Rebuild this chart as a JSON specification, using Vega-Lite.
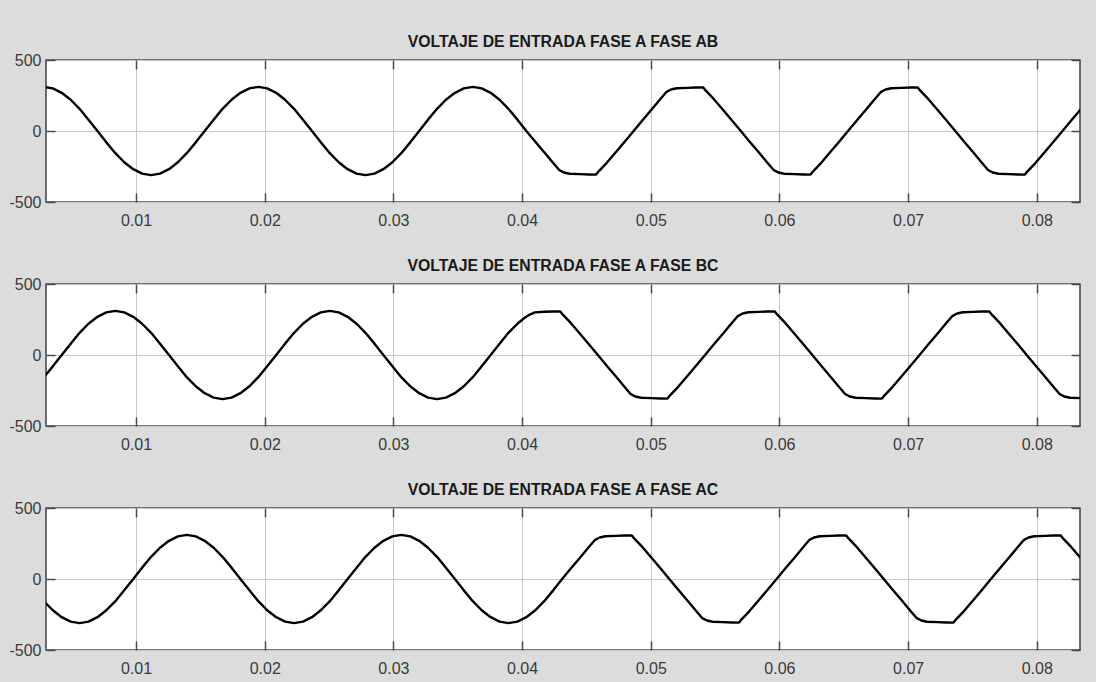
{
  "$schema": "https://vega.github.io/schema/vega-lite/v6.json",
  "background": "#dcdcdc",
  "padding": {"left": 8, "top": 33, "right": 10, "bottom": 5},
  "spacing": 28,
  "config": {
    "view": {"fill": "white", "stroke": "#4a4a4a", "strokeWidth": 1.6},
    "title": {"font": "Liberation Sans", "fontSize": 15.8, "fontWeight": "bold", "color": "#1a1a1a", "offset": 1, "anchor": "middle"},
    "axis": {"labelFont": "Liberation Sans", "labelFontSize": 16, "labelColor": "#3a3a3a", "domain": false, "tickColor": "#4a4a4a", "tickWidth": 1.5, "tickSize": -9, "gridColor": "#c8c8c8", "gridWidth": 1, "title": null, "labelFlush": false}
  },
  "datasets": {
    "ab": [
      {"t":0.00283,"v":311},{"t":0.00353,"v":300},{"t":0.00422,"v":269},{"t":0.00492,"v":220},{"t":0.00561,"v":156},{"t":0.0063,"v":80},{"t":0.007,"v":0},{"t":0.00769,"v":-80},{"t":0.00839,"v":-156},{"t":0.00908,"v":-220},{"t":0.00978,"v":-269},{"t":0.01047,"v":-300},{"t":0.01117,"v":-311},{"t":0.01186,"v":-300},{"t":0.01256,"v":-269},{"t":0.01325,"v":-220},{"t":0.01394,"v":-156},{"t":0.01464,"v":-80},{"t":0.01533,"v":0},{"t":0.01603,"v":80},{"t":0.01672,"v":156},{"t":0.01742,"v":220},{"t":0.01811,"v":269},{"t":0.01881,"v":300},{"t":0.0195,"v":311},{"t":0.02019,"v":300},{"t":0.02089,"v":269},{"t":0.02158,"v":220},{"t":0.02228,"v":156},{"t":0.02297,"v":80},{"t":0.02367,"v":0},{"t":0.02436,"v":-80},{"t":0.02506,"v":-156},{"t":0.02575,"v":-220},{"t":0.02644,"v":-269},{"t":0.02714,"v":-300},{"t":0.02783,"v":-311},{"t":0.02853,"v":-300},{"t":0.02922,"v":-269},{"t":0.02992,"v":-220},{"t":0.03061,"v":-156},{"t":0.03131,"v":-80},{"t":0.032,"v":0},{"t":0.03269,"v":80},{"t":0.03339,"v":156},{"t":0.03408,"v":220},{"t":0.03478,"v":269},{"t":0.03547,"v":300},{"t":0.03617,"v":311},{"t":0.03686,"v":300},{"t":0.03756,"v":269},{"t":0.03825,"v":220},{"t":0.03894,"v":156},{"t":0.03964,"v":80},{"t":0.04033,"v":0},
      {"t":0.04103,"v":-75},{"t":0.04172,"v":-150},{"t":0.04242,"v":-225},{"t":0.0429,"v":-276},{"t":0.04325,"v":-292},{"t":0.0437,"v":-301},{"t":0.0445,"v":-304},{"t":0.04519,"v":-306},{"t":0.04575,"v":-307},{"t":0.04595,"v":-284},{"t":0.04658,"v":-224},{"t":0.04728,"v":-150},{"t":0.04797,"v":-75},{"t":0.04867,"v":0},
      {"t":0.04936,"v":75},{"t":0.05005,"v":150},{"t":0.05075,"v":225},{"t":0.05123,"v":276},{"t":0.05158,"v":292},{"t":0.05203,"v":301},{"t":0.05283,"v":304},{"t":0.05352,"v":306},{"t":0.05408,"v":307},{"t":0.05428,"v":284},{"t":0.05491,"v":224},{"t":0.05561,"v":150},{"t":0.0563,"v":75},{"t":0.057,"v":0},
      {"t":0.05769,"v":-75},{"t":0.05839,"v":-150},{"t":0.05908,"v":-225},{"t":0.05957,"v":-276},{"t":0.05992,"v":-292},{"t":0.06037,"v":-301},{"t":0.06117,"v":-304},{"t":0.06186,"v":-306},{"t":0.06242,"v":-307},{"t":0.06262,"v":-284},{"t":0.06325,"v":-224},{"t":0.06394,"v":-150},{"t":0.06464,"v":-75},{"t":0.06533,"v":0},
      {"t":0.06603,"v":75},{"t":0.06672,"v":150},{"t":0.06742,"v":225},{"t":0.0679,"v":276},{"t":0.06825,"v":292},{"t":0.0687,"v":301},{"t":0.0695,"v":304},{"t":0.07019,"v":306},{"t":0.07075,"v":307},{"t":0.07095,"v":284},{"t":0.07158,"v":224},{"t":0.07228,"v":150},{"t":0.07297,"v":75},{"t":0.07367,"v":0},
      {"t":0.07436,"v":-75},{"t":0.07506,"v":-150},{"t":0.07575,"v":-225},{"t":0.07623,"v":-276},{"t":0.07658,"v":-292},{"t":0.07703,"v":-301},{"t":0.07783,"v":-304},{"t":0.07852,"v":-306},{"t":0.07908,"v":-307},{"t":0.07928,"v":-284},{"t":0.07991,"v":-224},{"t":0.08061,"v":-150},{"t":0.0813,"v":-75},{"t":0.082,"v":0},
      {"t":0.08269,"v":75},{"t":0.08339,"v":150},{"t":0.08408,"v":225}
    ],
    "bc": [
      {"t":0.00283,"v":-156},{"t":0.00353,"v":-80},{"t":0.00422,"v":0},{"t":0.00492,"v":80},{"t":0.00561,"v":156},{"t":0.0063,"v":220},{"t":0.007,"v":269},{"t":0.00769,"v":300},{"t":0.00839,"v":311},{"t":0.00908,"v":300},{"t":0.00978,"v":269},{"t":0.01047,"v":220},{"t":0.01117,"v":156},{"t":0.01186,"v":80},{"t":0.01256,"v":0},{"t":0.01325,"v":-80},{"t":0.01394,"v":-156},{"t":0.01464,"v":-220},{"t":0.01533,"v":-269},{"t":0.01603,"v":-300},{"t":0.01672,"v":-311},{"t":0.01742,"v":-300},{"t":0.01811,"v":-269},{"t":0.01881,"v":-220},{"t":0.0195,"v":-156},{"t":0.02019,"v":-80},{"t":0.02089,"v":0},{"t":0.02158,"v":80},{"t":0.02228,"v":156},{"t":0.02297,"v":220},{"t":0.02367,"v":269},{"t":0.02436,"v":300},{"t":0.02506,"v":311},{"t":0.02575,"v":300},{"t":0.02644,"v":269},{"t":0.02714,"v":220},{"t":0.02783,"v":156},{"t":0.02853,"v":80},{"t":0.02922,"v":0},{"t":0.02992,"v":-80},{"t":0.03061,"v":-156},{"t":0.03131,"v":-220},{"t":0.032,"v":-269},{"t":0.03269,"v":-300},{"t":0.03339,"v":-311},{"t":0.03408,"v":-300},{"t":0.03478,"v":-269},{"t":0.03547,"v":-220},{"t":0.03617,"v":-156},{"t":0.03686,"v":-80},{"t":0.03756,"v":0},{"t":0.03825,"v":80},{"t":0.03894,"v":156},{"t":0.03964,"v":220},
      {"t":0.0402,"v":262},{"t":0.0406,"v":285},{"t":0.041,"v":300},{"t":0.04172,"v":305},{"t":0.04241,"v":306},{"t":0.04297,"v":307},{"t":0.04317,"v":284},{"t":0.0438,"v":224},{"t":0.0445,"v":150},{"t":0.04519,"v":75},{"t":0.04589,"v":0},
      {"t":0.04658,"v":-75},{"t":0.04728,"v":-150},{"t":0.04797,"v":-225},{"t":0.04845,"v":-276},{"t":0.0488,"v":-292},{"t":0.04925,"v":-301},{"t":0.05005,"v":-304},{"t":0.05074,"v":-306},{"t":0.0513,"v":-307},{"t":0.0515,"v":-284},{"t":0.05213,"v":-224},{"t":0.05283,"v":-150},{"t":0.05352,"v":-75},{"t":0.05422,"v":0},
      {"t":0.05491,"v":75},{"t":0.05561,"v":150},{"t":0.0563,"v":225},{"t":0.05679,"v":276},{"t":0.05714,"v":292},{"t":0.05759,"v":301},{"t":0.05839,"v":304},{"t":0.05908,"v":306},{"t":0.05964,"v":307},{"t":0.05984,"v":284},{"t":0.06047,"v":224},{"t":0.06117,"v":150},{"t":0.06186,"v":75},{"t":0.06256,"v":0},
      {"t":0.06325,"v":-75},{"t":0.06394,"v":-150},{"t":0.06464,"v":-225},{"t":0.06512,"v":-276},{"t":0.06547,"v":-292},{"t":0.06592,"v":-301},{"t":0.06672,"v":-304},{"t":0.06741,"v":-306},{"t":0.06797,"v":-307},{"t":0.06817,"v":-284},{"t":0.0688,"v":-224},{"t":0.0695,"v":-150},{"t":0.07019,"v":-75},{"t":0.07089,"v":0},
      {"t":0.07158,"v":75},{"t":0.07228,"v":150},{"t":0.07297,"v":225},{"t":0.07346,"v":276},{"t":0.07381,"v":292},{"t":0.07426,"v":301},{"t":0.07506,"v":304},{"t":0.07575,"v":306},{"t":0.07631,"v":307},{"t":0.07651,"v":284},{"t":0.07714,"v":224},{"t":0.07783,"v":150},{"t":0.07853,"v":75},{"t":0.07922,"v":0},
      {"t":0.07992,"v":-75},{"t":0.08061,"v":-150},{"t":0.08131,"v":-225},{"t":0.08179,"v":-276},{"t":0.08214,"v":-292},{"t":0.08259,"v":-301},{"t":0.08339,"v":-304},{"t":0.08408,"v":-306}
    ],
    "ac": [
      {"t":0.00283,"v":-156},{"t":0.00353,"v":-220},{"t":0.00422,"v":-269},{"t":0.00492,"v":-300},{"t":0.00561,"v":-311},{"t":0.0063,"v":-300},{"t":0.007,"v":-269},{"t":0.00769,"v":-220},{"t":0.00839,"v":-156},{"t":0.00908,"v":-80},{"t":0.00978,"v":0},{"t":0.01047,"v":80},{"t":0.01117,"v":156},{"t":0.01186,"v":220},{"t":0.01256,"v":269},{"t":0.01325,"v":300},{"t":0.01394,"v":311},{"t":0.01464,"v":300},{"t":0.01533,"v":269},{"t":0.01603,"v":220},{"t":0.01672,"v":156},{"t":0.01742,"v":80},{"t":0.01811,"v":0},{"t":0.01881,"v":-80},{"t":0.0195,"v":-156},{"t":0.02019,"v":-220},{"t":0.02089,"v":-269},{"t":0.02158,"v":-300},{"t":0.02228,"v":-311},{"t":0.02297,"v":-300},{"t":0.02367,"v":-269},{"t":0.02436,"v":-220},{"t":0.02506,"v":-156},{"t":0.02575,"v":-80},{"t":0.02644,"v":0},{"t":0.02714,"v":80},{"t":0.02783,"v":156},{"t":0.02853,"v":220},{"t":0.02922,"v":269},{"t":0.02992,"v":300},{"t":0.03061,"v":311},{"t":0.03131,"v":300},{"t":0.032,"v":269},{"t":0.03269,"v":220},{"t":0.03339,"v":156},{"t":0.03408,"v":80},{"t":0.03478,"v":0},{"t":0.03547,"v":-80},{"t":0.03617,"v":-156},{"t":0.03686,"v":-220},{"t":0.03756,"v":-269},{"t":0.03825,"v":-300},{"t":0.03894,"v":-311},{"t":0.03964,"v":-300},{"t":0.04033,"v":-269},{"t":0.04103,"v":-220},{"t":0.04172,"v":-156},{"t":0.04242,"v":-80},{"t":0.04311,"v":0},
      {"t":0.0438,"v":75},{"t":0.0445,"v":150},{"t":0.04519,"v":225},{"t":0.04568,"v":276},{"t":0.04603,"v":292},{"t":0.04648,"v":301},{"t":0.04728,"v":304},{"t":0.04797,"v":306},{"t":0.04853,"v":307},{"t":0.04873,"v":284},{"t":0.04936,"v":224},{"t":0.05006,"v":150},{"t":0.05075,"v":75},{"t":0.05144,"v":0},
      {"t":0.05214,"v":-75},{"t":0.05283,"v":-150},{"t":0.05353,"v":-225},{"t":0.05401,"v":-276},{"t":0.05436,"v":-292},{"t":0.05481,"v":-301},{"t":0.05561,"v":-304},{"t":0.0563,"v":-306},{"t":0.05686,"v":-307},{"t":0.05706,"v":-284},{"t":0.05769,"v":-224},{"t":0.05839,"v":-150},{"t":0.05908,"v":-75},{"t":0.05978,"v":0},
      {"t":0.06047,"v":75},{"t":0.06117,"v":150},{"t":0.06186,"v":225},{"t":0.06234,"v":276},{"t":0.06269,"v":292},{"t":0.06314,"v":301},{"t":0.06394,"v":304},{"t":0.06463,"v":306},{"t":0.06519,"v":307},{"t":0.06539,"v":284},{"t":0.06602,"v":224},{"t":0.06672,"v":150},{"t":0.06741,"v":75},{"t":0.06811,"v":0},
      {"t":0.0688,"v":-75},{"t":0.0695,"v":-150},{"t":0.07019,"v":-225},{"t":0.07068,"v":-276},{"t":0.07103,"v":-292},{"t":0.07148,"v":-301},{"t":0.07228,"v":-304},{"t":0.07297,"v":-306},{"t":0.07353,"v":-307},{"t":0.07373,"v":-284},{"t":0.07436,"v":-224},{"t":0.07506,"v":-150},{"t":0.07575,"v":-75},{"t":0.07644,"v":0},
      {"t":0.07714,"v":75},{"t":0.07783,"v":150},{"t":0.07853,"v":225},{"t":0.07901,"v":276},{"t":0.07936,"v":292},{"t":0.07981,"v":301},{"t":0.08061,"v":304},{"t":0.0813,"v":306},{"t":0.08186,"v":307},{"t":0.08206,"v":284},{"t":0.08269,"v":224},{"t":0.08339,"v":150},{"t":0.08408,"v":75}
    ]
  },
  "vconcat": [
    {
      "title": "VOLTAJE DE ENTRADA FASE A FASE AB",
      "width": 1034, "height": 142,
      "data": {"name": "ab"},
      "layer": [
        {"mark": {"type": "line", "color": "black", "strokeWidth": 2.4, "clip": true, "strokeJoin": "round"},
         "encoding": {
           "x": {"field": "t", "type": "quantitative", "scale": {"domain": [0.003, 0.08336], "nice": false, "zero": false},
                 "axis": {"values": [0.01,0.02,0.03,0.04,0.05,0.06,0.07,0.08], "format": ".2f", "grid": true, "labelPadding": 19}},
           "y": {"field": "v", "type": "quantitative", "scale": {"domain": [-500, 500], "nice": false},
                 "axis": {"values": [-500,0,500], "grid": true, "labelPadding": 14, "labelExpr": "datum.value < 0 ? '-' + abs(datum.value) : '' + datum.value"}}}},
        {"mark": {"type": "line", "opacity": 0},
         "encoding": {
           "x": {"field": "t", "type": "quantitative", "scale": {"domain": [0.003, 0.08336], "nice": false, "zero": false},
                 "axis": {"orient": "top", "values": [0.01,0.02,0.03,0.04,0.05,0.06,0.07,0.08], "labels": false, "grid": false}},
           "y": {"field": "v", "type": "quantitative", "scale": {"domain": [-500, 500], "nice": false},
                 "axis": {"orient": "right", "values": [-500,0,500], "labels": false, "grid": false}}}}
      ],
      "resolve": {"axis": {"x": "independent", "y": "independent"}}
    },
    {
      "title": "VOLTAJE DE ENTRADA FASE A FASE BC",
      "width": 1034, "height": 142,
      "data": {"name": "bc"},
      "layer": [
        {"mark": {"type": "line", "color": "black", "strokeWidth": 2.4, "clip": true, "strokeJoin": "round"},
         "encoding": {
           "x": {"field": "t", "type": "quantitative", "scale": {"domain": [0.003, 0.08336], "nice": false, "zero": false},
                 "axis": {"values": [0.01,0.02,0.03,0.04,0.05,0.06,0.07,0.08], "format": ".2f", "grid": true, "labelPadding": 19}},
           "y": {"field": "v", "type": "quantitative", "scale": {"domain": [-500, 500], "nice": false},
                 "axis": {"values": [-500,0,500], "grid": true, "labelPadding": 14, "labelExpr": "datum.value < 0 ? '-' + abs(datum.value) : '' + datum.value"}}}},
        {"mark": {"type": "line", "opacity": 0},
         "encoding": {
           "x": {"field": "t", "type": "quantitative", "scale": {"domain": [0.003, 0.08336], "nice": false, "zero": false},
                 "axis": {"orient": "top", "values": [0.01,0.02,0.03,0.04,0.05,0.06,0.07,0.08], "labels": false, "grid": false}},
           "y": {"field": "v", "type": "quantitative", "scale": {"domain": [-500, 500], "nice": false},
                 "axis": {"orient": "right", "values": [-500,0,500], "labels": false, "grid": false}}}}
      ],
      "resolve": {"axis": {"x": "independent", "y": "independent"}}
    },
    {
      "title": "VOLTAJE DE ENTRADA FASE A FASE AC",
      "width": 1034, "height": 142,
      "data": {"name": "ac"},
      "layer": [
        {"mark": {"type": "line", "color": "black", "strokeWidth": 2.4, "clip": true, "strokeJoin": "round"},
         "encoding": {
           "x": {"field": "t", "type": "quantitative", "scale": {"domain": [0.003, 0.08336], "nice": false, "zero": false},
                 "axis": {"values": [0.01,0.02,0.03,0.04,0.05,0.06,0.07,0.08], "format": ".2f", "grid": true, "labelPadding": 19}},
           "y": {"field": "v", "type": "quantitative", "scale": {"domain": [-500, 500], "nice": false},
                 "axis": {"values": [-500,0,500], "grid": true, "labelPadding": 14, "labelExpr": "datum.value < 0 ? '-' + abs(datum.value) : '' + datum.value"}}}},
        {"mark": {"type": "line", "opacity": 0},
         "encoding": {
           "x": {"field": "t", "type": "quantitative", "scale": {"domain": [0.003, 0.08336], "nice": false, "zero": false},
                 "axis": {"orient": "top", "values": [0.01,0.02,0.03,0.04,0.05,0.06,0.07,0.08], "labels": false, "grid": false}},
           "y": {"field": "v", "type": "quantitative", "scale": {"domain": [-500, 500], "nice": false},
                 "axis": {"orient": "right", "values": [-500,0,500], "labels": false, "grid": false}}}}
      ],
      "resolve": {"axis": {"x": "independent", "y": "independent"}}
    }
  ]
}
